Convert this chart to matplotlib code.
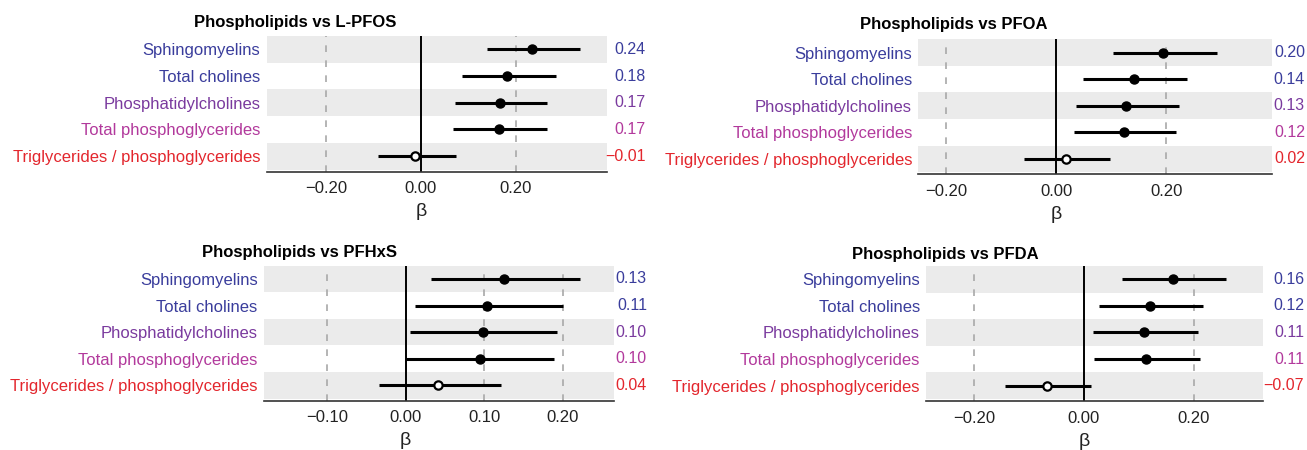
import matplotlib
matplotlib.use("Agg")
import matplotlib.pyplot as plt

plt.rcParams['font.family'] = ['Liberation Sans', 'DejaVu Sans']

categories = ["Sphingomyelins", "Total cholines", "Phosphatidylcholines",
              "Total phosphoglycerides", "Triglycerides / phosphoglycerides"]
cat_colors = ["#3a3d9c", "#3a3d9c", "#7a3a9e", "#b2399c", "#e3262d"]
open_marker = [False, False, False, False, True]

titles = ["Phospholipids vs L-PFOS", "Phospholipids vs PFOA",
          "Phospholipids vs PFHxS", "Phospholipids vs PFDA"]

est_lpfos = [0.235, 0.181, 0.166, 0.164, -0.013]
lo_lpfos = [0.139, 0.086, 0.071, 0.068, -0.091]
hi_lpfos = [0.335, 0.284, 0.266, 0.266, 0.073]
lab_lpfos = ["0.24", "0.18", "0.17", "0.17", "\u22120.01"]

est_pfoa = [0.194, 0.141, 0.127, 0.123, 0.017]
lo_pfoa = [0.104, 0.049, 0.036, 0.032, -0.058]
hi_pfoa = [0.292, 0.237, 0.223, 0.218, 0.097]
lab_pfoa = ["0.20", "0.14", "0.13", "0.12", "0.02"]

est_pfhxs = [0.125, 0.104, 0.098, 0.094, 0.041]
lo_pfhxs = [0.032, 0.012, 0.006, 0.001, -0.034]
hi_pfhxs = [0.222, 0.200, 0.193, 0.189, 0.121]
lab_pfhxs = ["0.13", "0.11", "0.10", "0.10", "0.04"]

est_pfda = [0.161, 0.120, 0.109, 0.112, -0.068]
lo_pfda = [0.069, 0.027, 0.017, 0.019, -0.144]
hi_pfda = [0.259, 0.217, 0.208, 0.210, 0.013]
lab_pfda = ["0.16", "0.12", "0.11", "0.11", "\u22120.07"]

xticks_list = [[-0.2, 0.0, 0.2], [-0.2, 0.0, 0.2], [-0.1, 0.0, 0.1, 0.2], [-0.2, 0.0, 0.2]]
xlims = [(-0.325, 0.392), (-0.251, 0.392), (-0.180, 0.265), (-0.287, 0.325)]

W, H = 1307, 450
fig = plt.figure(figsize=(W / 100, H / 100), dpi=100)

# axes boxes in pixels: left, right, top, bottom
boxes = [(266.7, 607, 36, 171.7), (918.3, 1271.7, 39.3, 174.3),
         (264, 614, 265.7, 400.7), (926, 1262.8, 266, 401)]
title_pos = [(295, 23), (953.5, 25), (299, 253), (945, 254)]
label_right = [646, 1305, 647, 1304]

data = [(est_lpfos, lo_lpfos, hi_lpfos, lab_lpfos),
        (est_pfoa, lo_pfoa, hi_pfoa, lab_pfoa),
        (est_pfhxs, lo_pfhxs, hi_pfhxs, lab_pfhxs),
        (est_pfda, lo_pfda, hi_pfda, lab_pfda)]

n = len(categories)
ypos = list(range(n, 0, -1))

for k in range(4):
    l, r, t, b = boxes[k]
    ax = fig.add_axes([l / W, 1 - b / H, (r - l) / W, (b - t) / H])
    est, lo, hi, labs = data[k]
    ax.set_xlim(*xlims[k])
    ax.set_ylim(0.42, n + 0.5)
    for i, y in enumerate(ypos):
        if i % 2 == 0:
            ax.axhspan(y - 0.5, y + 0.5, color="#ebebeb", lw=0, zorder=0)
    for xt in xticks_list[k]:
        if xt != 0:
            ax.axvline(xt, color="#a8a8a8", lw=1.2, ls=(0, (4, 5)), zorder=1)
    ax.axvline(0, color="black", lw=1.4, zorder=2)
    for i, y in enumerate(ypos):
        ax.plot([lo[i], hi[i]], [y, y], color="black", lw=2.2, solid_capstyle="butt", zorder=3)
        if open_marker[i]:
            ax.plot(est[i], y, "o", ms=6, mfc="white", mec="black", mew=1.6, zorder=4)
        else:
            ax.plot(est[i], y, "o", ms=6.5, mfc="black", mec="black", zorder=4)
    ax.set_yticks(ypos)
    ax.set_yticklabels(categories, fontsize=12)
    for tl, c in zip(ax.get_yticklabels(), cat_colors):
        tl.set_color(c)
    ax.tick_params(axis="y", length=0, pad=4.5)
    ax.set_xticks(xticks_list[k])
    ax.set_xticklabels([("\u2212" if v < 0 else "") + f"{abs(v):.2f}" for v in xticks_list[k]],
                       fontsize=12, color="#222222")
    ax.tick_params(axis="x", length=0, pad=7)
    for s in ["left", "right", "top"]:
        ax.spines[s].set_visible(False)
    ax.spines["bottom"].set_color("#333333")
    ax.spines["bottom"].set_linewidth(1.2)
    ax.patch.set_alpha(0)
    ax.annotate("\u03b2", xy=(0, 0), xycoords=("data", "axes fraction"),
                xytext=(0, -40 * 0.72), textcoords="offset points",
                ha="center", va="center", fontsize=14, color="#222222",
                annotation_clip=False)
    for i, y in enumerate(ypos):
        ax.annotate(labs[i], xy=(1, y), xycoords=("axes fraction", "data"),
                    xytext=((label_right[k] - r) * 0.72, 0), textcoords="offset points",
                    ha="right", va="center", fontsize=11.5, color=cat_colors[i],
                    annotation_clip=False)
    tx, ty = title_pos[k]
    fig.text(tx / W, 1 - ty / H, titles[k], ha="center", va="center",
             fontsize=12, fontweight="bold", color="black")

fig.savefig("out.png", dpi=100)
